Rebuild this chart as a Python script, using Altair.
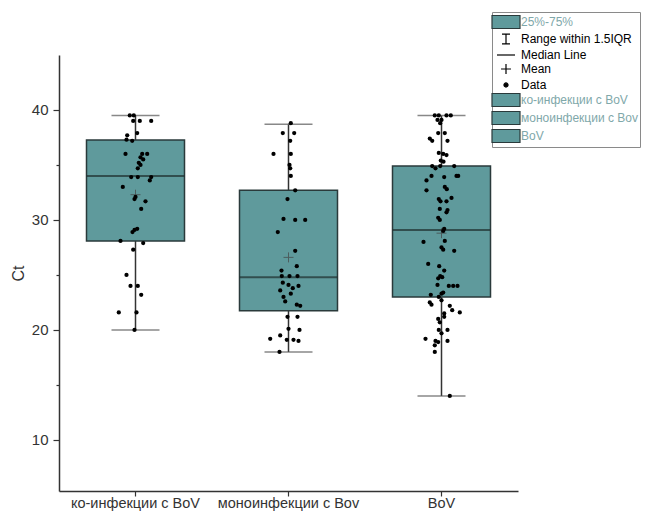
import altair as alt
import pandas as pd

categories = ["ко-инфекции с BoV", "моноинфекции с Bov", "BoV"]

# box summaries (Ct)
q1 = [28.1, 21.75, 23.0]
median = [34.0, 24.8, 29.1]
q3 = [37.27, 32.7, 34.9]
whisker_low = [20.0, 18.0, 14.0]
whisker_high = [39.5, 38.7, 39.5]
means = [32.3, 26.6, 28.8]

# individual data points: Ct value and horizontal jitter
coinf_ct = [39.5, 39.5, 39.0, 39.0, 39.0, 37.9, 37.7, 37.3, 37.2, 36.0, 36.0, 36.0, 35.7,
            35.5, 35.2, 35.0, 34.7, 33.9, 33.9, 33.9, 33.6, 33.0, 32.1, 31.9, 31.7, 31.0,
            29.2, 29.1, 28.9, 28.1, 27.9, 27.3, 25.0, 24.0, 24.0, 23.2, 21.6, 21.6, 20.0]
coinf_jitter = [-5.7, -1.7, -2.3, 4.3, 15.7, 1.7, -8.3, -9, -3.3, -10, 6.7, 11.7, 5,
                7.7, 3.3, 5, 2.3, -4.3, 2.3, 15.7, 14.3, -12.7, 0, -1, 10, 5.7,
                1.7, -1, -3, -15, 7.7, -2.3, -9, -5, 2.3, 5.7, -16.7, 1, -1]

mono_ct = [38.8, 37.9, 37.9, 37.2, 36.0, 36.0, 35.0, 34.7, 34.0, 32.7, 31.9, 30.1, 30.0,
           30.0, 28.9, 27.2, 25.8, 25.4, 24.9, 24.9, 24.9, 24.3, 24.1, 24.0, 23.6, 23.3,
           23.8, 23.0, 22.6, 22.3, 22.2, 21.2, 21.2, 20.1, 20.0, 19.5, 19.2, 19.1, 19.1,
           19.0, 18.0]
mono_jitter = [2.3, -5.7, 5.7, 1.7, -15, 2.3, 1, 1.7, 2.3, 6.7, -1, -5, 6.7,
               16.7, -10.7, 6.7, 8.3, -7, 1, -6.7, 9, -5.7, 0, 10, -8.3, 2.3,
               4.3, -5, -3.3, 8.3, 11.7, -1, 9, 0, 11, -8.3, -18.3, -1.7, 5,
               10, -9]

bov_ct = [39.5, 39.5, 39.5, 39.5, 39.1, 39.1, 38.8, 37.9, 37.9, 37.4, 37.2, 37.2, 36.1,
          36.0, 35.9, 35.4, 35.3, 34.9, 34.7, 34.9, 34.9, 34.0, 33.9, 34.0, 34.0, 33.6,
          32.7, 33.0, 32.8, 31.9, 32.0, 31.7, 31.7, 31.0, 30.9, 30.7, 30.2, 30.0, 29.2,
          29.0, 28.0, 28.1, 27.5, 27.3, 27.2, 26.0, 25.8, 25.4, 24.9, 24.7, 24.8, 24.1,
          24.0, 24.0, 24.0, 23.2, 23.3, 23.4, 23.0, 22.5, 22.3, 22.7, 22.2, 21.8, 21.6,
          21.5, 21.0, 21.2, 20.7, 20.0, 20.0, 19.7, 19.2, 19.0, 18.9, 19.0, 18.6, 18.0,
          14.0]
bov_jitter = [-6.7, -2.7, 5, 9.3, -4, 0, -1.3, -3.3, 3.3, -11.7, -9.3, 6, -2.7,
              1.7, 5, -0.7, 2, -9.3, -6, -1.3, 12.7, -10, 2.7, 15, 16.7, -15,
              -15, 3.3, 5.3, -2.7, 10, 5, -1, -1.7, 6, 5, -3.3, -1.7, 2.7,
              1.7, -18, 3.3, 0, 1.7, 12.7, -13.3, -2.3, 2.7, -1.3, -3.3, 0.7, -4,
              7.3, 11.7, 16, -10.7, 0, 1.7, -2.7, -11.7, -10, 0, 8.3, 10.7, 18.3,
              2.7, -3.3, 2.7, -1.7, -2.7, 6, 0, -16, -6, -3.3, 6, -6.7, -6.7,
              8.3]

legend_items = ["25%-75%", "Range within 1.5IQR", "Median Line", "Mean", "Data",
                "ко-инфекции с BoV", "моноинфекции с Bov", "BoV"]

# ---- tables ----
stats = pd.DataFrame({"category": categories, "q1": q1, "median": median, "q3": q3,
                      "lo": whisker_low, "hi": whisker_high, "mean": means})
points = pd.DataFrame({
    "category": [categories[0]] * len(coinf_ct) + [categories[1]] * len(mono_ct)
                + [categories[2]] * len(bov_ct),
    "ct": coinf_ct + mono_ct + bov_ct,
    "jitter": coinf_jitter + mono_jitter + bov_jitter,
})
legend_df = pd.DataFrame({"item": legend_items})

TEAL = "#5f9a9c"
EDGE = "#2a3a3b"
FONT = "Liberation Sans"
W, H = 459, 436
BAND = W / 3

x_enc = alt.X("category:N",
              scale=alt.Scale(domain=categories, paddingInner=0, paddingOuter=0),
              axis=alt.Axis(title=None, labelAngle=0, labelFontSize=14.5, tickSize=5,
                            labelPadding=0, domainWidth=1.5))
y_scale = alt.Scale(domain=[5.36, 45], nice=False, zero=False)
y_axis = alt.Axis(title="Ct", values=[10, 15, 20, 25, 30, 35, 40],
                  labelExpr="datum.value % 10 == 0 ? datum.label : ''",
                  tickSize={"condition": {"test": "datum.value % 10 != 0", "value": 3}, "value": 6},
                  labelFontSize=15, labelPadding=5, titleFontSize=16, titleFontWeight="normal",
                  titlePadding=5, domainWidth=1.5)


def Y(field):
    return alt.Y(f"{field}:Q", scale=y_scale, axis=y_axis)


base = alt.Chart(stats)

whisker = base.mark_rule(color="#333", strokeWidth=1.5).encode(x=x_enc, y=Y("lo"), y2="hi")
caps_lo = base.mark_tick(size=48, thickness=1.5, color="#555").encode(x=x_enc, y=Y("lo"))
caps_hi = base.mark_tick(size=48, thickness=1.5, color="#555").encode(x=x_enc, y=Y("hi"))
box = base.mark_bar(size=98, color=TEAL, stroke=EDGE, strokeWidth=1.5).encode(
    x=x_enc, y=Y("q1"), y2="q3")
med = base.mark_tick(size=98, thickness=2, color="#1e2d2e").encode(x=x_enc, y=Y("median"))
mean_pt = base.mark_point(shape="M-1,0H1M0,-1V1", size=100, color="#444",
                          strokeWidth=1).encode(x=x_enc, y=Y("mean"))

dots = alt.Chart(points).mark_circle(size=18, color="black", opacity=1).encode(
    x=x_enc,
    xOffset=alt.XOffset("jitter:Q", scale=alt.Scale(domain=[-BAND / 2, BAND / 2],
                                                     range=[0, BAND])),
    y=Y("ct"),
)

shape_paths = [
    "M-2,-0.93H2V0.93H-2Z",
    "M-0.57,-0.71H0.57M0,-0.71V0.71M-0.57,0.71H0.57",
    "M-1.29,0H1.29",
    "M-0.71,0H0.71M0,-0.71V0.71",
    "M-0.29,0A0.29,0.29,0,1,1,0.29,0A0.29,0.29,0,1,1,-0.29,0Z",
    "M-2,-0.93H2V0.93H-2Z",
    "M-2,-0.93H2V0.93H-2Z",
    "M-2,-0.93H2V0.93H-2Z",
]
fills = [TEAL, "transparent", "transparent", "transparent", "black", TEAL, TEAL, TEAL]
strokes = [EDGE, "black", "black", "black", "black", EDGE, EDGE, EDGE]

leg = alt.Legend(
    title=None, orient="none", legendX=433, legendY=-43,
    symbolSize=196, symbolStrokeWidth=1.2, symbolOffset=4, labelOffset=7,
    labelFont=FONT, labelFontSize=12, rowPadding=0, padding=2, labelLimit=200,
    labelColor={"expr": "indexof(['25%-75%','ко-инфекции с BoV','моноинфекции с Bov','BoV'], datum.label) >= 0 ? '#7fa8aa' : 'black'"},
    strokeColor="#8a8a8a", fillColor="white",
)
legend_layer = alt.Chart(legend_df).mark_point(size=0, opacity=1, strokeWidth=1.2).encode(
    shape=alt.Shape("item:N", scale=alt.Scale(domain=legend_items, range=shape_paths), legend=leg),
    fill=alt.Fill("item:N", scale=alt.Scale(domain=legend_items, range=fills), legend=leg),
    stroke=alt.Stroke("item:N", scale=alt.Scale(domain=legend_items, range=strokes), legend=leg),
)

chart = alt.layer(whisker, caps_lo, caps_hi, box, med, mean_pt, dots, legend_layer).properties(
    width=W, height=H,
    autosize=alt.AutoSizeParams(type="none"),
    padding={"left": 51, "top": 47, "right": 123, "bottom": 21},
).configure_view(stroke=None).configure_axis(
    grid=False, labelFont=FONT, titleFont=FONT, domainColor="#333", tickColor="#333",
    labelColor="#333", titleColor="#333", tickWidth=1.2,
)

chart.save("out.html", embed_options={"renderer": "svg", "actions": False})
